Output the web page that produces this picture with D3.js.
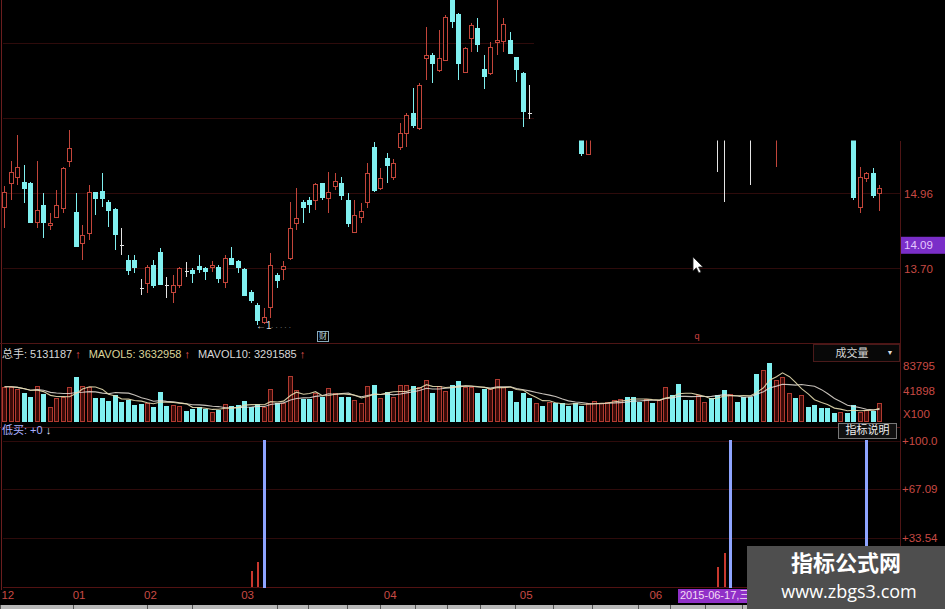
<!DOCTYPE html>
<html><head><meta charset="utf-8">
<script src="https://cdn.jsdelivr.net/npm/d3@7"></script>
<style>html,body{margin:0;padding:0;background:#000;overflow:hidden}</style>
</head><body><svg id="c" width="945" height="609"></svg>
<script>
// ---------------- DATA ----------------
const slotCount = 136;
// OHLC (null = candle not visible in the picture)
const open = [14.73,15.12,15.23,15.14,15.12,14.48,14.76,14.42,14.56,14.70,
15.49,14.64,14.12,14.28,14.98,14.99,14.81,14.69,14.09,13.83,
13.83,13.36,13.44,13.75,13.97,13.41,13.30,13.41,13.65,13.67,
13.73,13.70,13.71,13.72,13.47,13.86,13.82,13.68,13.30,13.08,
12.80,13.05,13.58,13.68,13.86,14.45,14.81,14.84,14.84,15.12,
14.87,15.08,15.12,14.84,14.31,14.56,14.81,15.74,15.04,15.54,
15.23,15.74,15.96,16.30,16.05,17.22,17.28,17.03,17.19,18.37,
17.97,17.00,17.56,17.74,17.05,16.97,17.49,17.52,17.53,17.24,
16.98,16.31,null,null,null,null,null,null,null,16.02,
15.62,null,null,null,null,null,null,null,null,null,
null,null,null,null,null,null,null,null,null,null,
16.69,16.69,null,null,null,16.69,null,null,null,16.60,
null,null,null,null,null,null,null,null,null,null,
null,16.10,14.73,15.21,15.29,14.96];
const high = [15.07,15.49,15.93,15.43,15.15,15.50,14.96,14.62,15.01,15.40,
16.02,14.96,14.42,15.09,14.98,15.29,14.84,14.70,14.37,13.92,
13.92,13.52,13.75,13.83,14.03,13.55,13.58,13.72,13.80,13.70,
13.92,13.72,13.81,13.75,13.92,14.06,13.83,13.70,13.33,13.11,
13.03,13.95,13.61,13.81,14.81,15.04,14.85,14.90,15.13,15.13,
15.32,15.29,15.23,14.96,14.84,14.79,15.46,15.82,15.38,15.63,
15.53,16.13,16.30,16.72,16.80,17.75,17.31,17.70,17.95,18.45,
17.98,17.42,17.81,17.90,17.28,17.50,18.25,17.90,17.67,17.25,
17.00,16.78,null,null,null,null,null,null,null,16.10,
16.10,null,null,null,null,null,null,null,null,null,
null,null,null,null,null,null,null,null,null,null,
16.80,16.80,null,null,null,16.80,null,null,null,16.85,
null,null,null,null,null,null,null,null,null,null,
null,16.20,15.40,15.32,15.38,15.09];
const low = [14.37,14.84,15.09,14.79,14.45,14.37,14.20,14.34,14.56,14.62,
15.40,14.06,13.83,14.17,14.59,14.73,14.39,14.00,13.92,13.58,
13.61,13.25,13.28,13.36,13.41,13.19,13.11,13.36,13.55,13.44,
13.61,13.50,13.64,13.44,13.36,13.75,13.61,13.23,13.11,12.74,
12.76,12.86,13.36,13.50,13.83,14.34,14.45,14.62,14.67,14.84,
14.62,15.01,14.84,14.39,14.28,14.45,14.70,14.98,15.01,15.12,
15.18,15.68,15.74,16.05,16.02,16.86,16.80,17.00,17.19,17.73,
16.86,16.97,17.33,17.33,16.70,16.94,17.28,17.33,17.31,16.83,
16.07,16.21,null,null,null,null,null,null,null,15.59,
15.60,null,null,null,null,null,null,null,null,null,
null,null,null,null,null,null,null,null,null,null,
15.32,14.81,null,null,null,15.09,null,null,null,15.40,
null,null,null,null,null,null,null,null,null,null,
null,14.84,14.62,15.15,14.87,14.65];
const close = [14.98,15.32,15.40,15.05,14.48,14.67,14.48,14.45,14.76,15.38,
15.71,14.07,14.25,14.98,14.87,14.87,14.67,14.27,14.09,13.67,
13.72,13.36,13.71,13.41,13.43,13.41,13.41,13.70,13.65,13.61,
13.68,13.65,13.75,13.53,13.87,13.76,13.72,13.25,13.16,12.83,
12.88,13.75,13.50,13.73,14.37,14.54,14.72,14.77,15.11,14.90,
14.98,15.16,14.93,14.45,14.59,14.65,15.29,15.01,15.21,15.43,
15.47,15.96,16.27,16.10,16.77,17.28,17.14,17.22,17.92,17.85,
17.15,17.39,17.78,17.47,16.93,17.42,17.53,17.80,17.32,17.05,
16.33,16.31,null,null,null,null,null,null,null,15.63,
16.02,null,null,null,null,null,null,null,null,null,
null,null,null,null,null,null,null,null,null,null,
16.69,16.69,null,null,null,16.69,null,null,null,16.75,
null,null,null,null,null,null,null,null,null,null,
null,14.90,15.23,15.29,14.93,15.04];
// volume (x100)
const volume = [100200,100200,94300,82500,70700,102200,78700,39200,65700,68600,
100200,129600,102200,98100,65700,65700,58900,75700,56000,61000,
46300,49200,53000,41200,85400,43300,46300,43300,29500,34500,
41200,34500,26500,31500,49200,43300,46300,58900,39200,49200,
41200,92200,53000,53000,131700,90400,62700,62700,80400,70700,
95200,80400,70700,70700,61000,51000,102200,105200,65700,85400,
68600,105200,105200,102200,98100,119900,80400,102200,88400,105200,
117800,100200,100200,80400,92200,92200,122800,100200,88400,56000,
80400,65700,51000,42700,54500,51000,51000,43600,53000,43600,
51000,58900,51000,56000,61000,62700,68600,70700,56000,62700,
53000,61000,100200,75700,106900,61000,61000,75700,56000,65700,
75700,90400,78700,56000,70700,70700,137600,149400,168800,119900,
129600,80400,65700,75700,41200,46300,38000,36000,24000,26500,
23000,45000,27000,31000,27300,51312];
// 1 = up day (red), 0 = down day (cyan)
const upDay = [1,1,1,0,0,1,0,1,1,1, 1,0,1,1,0,0,0,0,0,0,
0,0,1,0,0,0,1,1,0,0, 0,0,1,0,1,0,0,0,0,0,
1,1,0,1,1,1,0,0,1,0, 1,1,0,0,1,1,1,0,1,0,
1,1,1,0,1,1,0,1,1,0, 0,1,1,0,0,1,1,1,0,0,
0,0,1,0,1,0,0,0,0,0, 1,1,1,1,1,1,0,0,0,1,
0,1,1,0,0,0,0,1,1,0, 0,0,1,0,0,0,0,1,0,1,
1,1,0,1,0,0,0,0,0,1, 0,0,1,1,0,1];
// indicator 低买
const redSigSlots = [38,39,110,111];
const redSigValues = [11.3,17.5,14.0,23.2];
const blueSigSlots = [40,112,133];
const blueSigValues = [100,100,100];
// axes
const priceTicks = [13.70,14.96,16.22,17.48];
const cursorPrice = 14.09;
const volTickLabels = ["83795","41898","X100"];
const volTickValues = [83795,41898,2000];
const indTicks = [100,67.09,33.54];
const indTickLabels = ["+100.0","+67.09","+33.54"];
const monthLabels = ["12","01","02","03","04","05","06"];
const monthSlots = [0,11,22,37,59,80,100];
const totalHands = "5131187", mavol5 = "3632958", mavol10 = "3291585";
const cursorDate = "2015-06-17,三";

// ---------------- DRAW ----------------
const W=945,H=609;
const FONT='"Liberation Sans", Arial, "Noto Sans CJK SC", sans-serif';
const RED='#c2453a', CYAN='#80f0f0', WHITE='#e4e4e4', GRID='#2e0b0b', AX='#c84a44', LINE='#4e1515';
const svg=d3.select('#c').style('font-family',FONT);
svg.append('rect').attr('width',W).attr('height',H).attr('fill','#000');

const slots=d3.range(slotCount);
const x=d3.scaleBand().domain(slots).range([1.46,882.74]).paddingInner(0.3).paddingOuter(0.15);
const px=i=>Math.round(x(i))+0.5;
const bw=Math.round(x.bandwidth())-1;
const pc=i=>px(i)+bw/2;
const yP=d3.scaleLinear().domain([13.70,14.96]).range([268,193]);
const yV=d3.scaleLinear().domain([0,170000]).range([420.7,363]);
const yI=d3.scaleLinear().domain([0,100]).range([587.3,440.7]);
const yVL=d3.scaleLinear().domain([83795,0]).range([367,416]);

// main grid
const gMain=svg.append('g').attr('shape-rendering','crispEdges');
gMain.selectAll('line.g').data(priceTicks).join('line')
 .attr('x1',3).attr('x2',900).attr('y1',d=>Math.round(yP(d))+0.5).attr('y2',d=>Math.round(yP(d))+0.5)
 .attr('stroke',GRID);
// main price labels
svg.append('g').selectAll('text').data(priceTicks).join('text')
 .attr('x',904).attr('y',d=>yP(d)+2).attr('dominant-baseline','middle')
 .attr('font-size',11.5).attr('fill',AX).text(d=>d.toFixed(2));

// candles
const gC=svg.append('g').attr('shape-rendering','crispEdges');
slots.filter(i=>open[i]!=null).forEach(i=>{
  const o=open[i],c=close[i],h=high[i],l=low[i];
  const col=c>o?RED:(c<o?CYAN:WHITE);
  const x0=px(i), xc=pc(i);
  const yt=Math.round(yP(Math.max(o,c)))+0.5, yb=Math.round(yP(Math.min(o,c)))+0.5;
  gC.append('line').attr('x1',xc).attr('x2',xc).attr('y1',yP(h)).attr('y2',yP(l)).attr('stroke',col);
  if(c===o){
    gC.append('line').attr('x1',x0).attr('x2',x0+bw).attr('y1',yt).attr('y2',yt).attr('stroke',col);
  } else {
    gC.append('rect').attr('x',x0).attr('y',yt).attr('width',bw).attr('height',Math.max(1,yb-yt))
      .attr('fill',c>o?'#000':col).attr('stroke',col);
  }
});
// low price marker and small icons
svg.append('text').attr('x',256).attr('y',326).attr('font-size',10).attr('fill','#ddd').attr('dominant-baseline','middle').text('←1');
svg.append('text').attr('x',271).attr('y',326).attr('font-size',8).attr('fill','#888').attr('dominant-baseline','middle').text('. . . . .');
svg.append('rect').attr('x',317.5).attr('y',331.5).attr('width',11).attr('height',10).attr('fill','none').attr('stroke','#8ab');
svg.append('text').attr('x',323).attr('y',337).attr('font-size',8).attr('text-anchor','middle').attr('dominant-baseline','middle').attr('fill','#bdd').text('财');
svg.append('text').attr('x',697).attr('y',337).attr('font-size',9).attr('text-anchor','middle').attr('dominant-baseline','middle').attr('fill','#d04040').text('q');

// mask (blacked-out region of screenshot)
svg.append('rect').attr('x',534).attr('y',0).attr('width',W-534).attr('height',140.5).attr('fill','#000');

// cursor price box
svg.append('rect').attr('x',900).attr('y',yP(cursorPrice)-8).attr('width',45).attr('height',17).attr('fill','#7a2ec8');
svg.append('text').attr('x',904).attr('y',yP(cursorPrice)+1).attr('dominant-baseline','middle').attr('font-size',11.5).attr('fill','#e6c8ff').text(cursorPrice.toFixed(2));

// panel borders
const gB=svg.append('g').attr('shape-rendering','crispEdges');
gB.append('line').attr('x1',1.5).attr('x2',1.5).attr('y1',0).attr('y2',590).attr('stroke','#6a1e1e');
gB.append('line').attr('x1',900.5).attr('x2',900.5).attr('y1',141).attr('y2',604).attr('stroke',LINE);
gB.append('line').attr('x1',0).attr('x2',900).attr('y1',343.5).attr('y2',343.5).attr('stroke',LINE);
gB.append('line').attr('x1',0).attr('x2',900).attr('y1',427.5).attr('y2',427.5).attr('stroke',LINE);

// volume header
const hdr=svg.append('text').attr('x',2).attr('y',355).attr('dominant-baseline','middle').attr('font-size',11);
hdr.append('tspan').attr('fill','#d8d8d8').text('总手: '+totalHands);
hdr.append('tspan').attr('fill','#e05050').attr('dx',3).attr('font-weight','bold').text('↑');
hdr.append('tspan').attr('fill','#dcd49a').attr('dx',8).text('MAVOL5: '+mavol5);
hdr.append('tspan').attr('fill','#e05050').attr('dx',3).attr('font-weight','bold').text('↑');
hdr.append('tspan').attr('fill','#d8d8d8').attr('dx',8).text('MAVOL10: '+mavol10);
hdr.append('tspan').attr('fill','#e05050').attr('dx',3).attr('font-weight','bold').text('↑');
// 成交量 box
svg.append('rect').attr('x',813.5).attr('y',344.5).attr('width',86).attr('height',17).attr('fill','#080808').attr('stroke','#4a1a1a');
svg.append('text').attr('x',852).attr('y',354).attr('text-anchor','middle').attr('dominant-baseline','middle').attr('font-size',11).attr('fill','#d6d6d6').text('成交量');
svg.append('text').attr('x',890).attr('y',353).attr('text-anchor','middle').attr('dominant-baseline','middle').attr('font-size',7).attr('fill','#ddd').text('▼');

// volume bars
const gV=svg.append('g').attr('shape-rendering','crispEdges');
slots.forEach(i=>{
  const v=volume[i]; if(v==null) return;
  const up=upDay[i]===1;
  const yt=Math.round(yV(v))+0.5, yb=Math.round(yV(0))+0.5;
  gV.append('rect').attr('x',px(i)).attr('y',yt).attr('width',bw).attr('height',yb-yt)
    .attr('fill',up?'#3a0b08':CYAN).attr('stroke',up?'#b03a30':CYAN);
});
// MAVOL lines
function ma(n){return volume.map((v,i)=>{const s=volume.slice(Math.max(0,i-n+1),i+1);return d3.mean(s);});}
const ma5=ma(5), ma10=ma(10);
const ln=d3.line().x((d,i)=>pc(i)).y(d=>yV(d));
svg.append('path').attr('d',ln(ma10)).attr('fill','none').attr('stroke','#e8e0d8').attr('stroke-width',1.1).attr('opacity',0.85);
svg.append('path').attr('d',ln(ma5)).attr('fill','none').attr('stroke','#e6dcb0').attr('stroke-width',1.1).attr('opacity',0.9);
// volume labels
svg.append('g').selectAll('text').data(volTickLabels).join('text')
 .attr('x',903).attr('y',(d,i)=>yVL(volTickValues[i])).attr('dominant-baseline','middle')
 .attr('font-size',11.5).attr('fill',AX).text(d=>d);

// indicator panel
svg.append('text').attr('x',2).attr('y',431).attr('dominant-baseline','middle').attr('font-size',11)
 .call(t=>{t.append('tspan').attr('fill','#a8b0ff').text('低买: +0');t.append('tspan').attr('fill','#e0e0ff').attr('dx',3).attr('font-weight','bold').text('↓');});
svg.append('rect').attr('x',838.5).attr('y',423.5).attr('width',58).attr('height',15).attr('fill','#101010').attr('stroke','#777');
svg.append('text').attr('x',867.5).attr('y',431.5).attr('text-anchor','middle').attr('dominant-baseline','middle').attr('font-size',11).attr('fill','#eee').text('指标说明');
const gI=svg.append('g').attr('shape-rendering','crispEdges');
gI.selectAll('line').data(indTicks.concat([0])).join('line')
 .attr('x1',3).attr('x2',900).attr('y1',d=>Math.round(yI(d))+0.5).attr('y2',d=>Math.round(yI(d))+0.5)
 .attr('stroke',d=>d===0?'#521212':GRID);
svg.append('g').selectAll('text').data(indTickLabels).join('text')
 .attr('x',902).attr('y',(d,i)=>yI(indTicks[i])+1).attr('dominant-baseline','middle')
 .attr('font-size',11.5).attr('fill',AX).text(d=>d);
redSigSlots.forEach((s,k)=>{
  gI.append('rect').attr('x',pc(s)-1).attr('y',yI(redSigValues[k])).attr('width',2).attr('height',yI(0)-yI(redSigValues[k])).attr('fill','#c8382e');
});
blueSigSlots.forEach((s,k)=>{
  gI.append('rect').attr('x',pc(s)-1.5).attr('y',yI(blueSigValues[k])-1).attr('width',3).attr('height',yI(0)-yI(blueSigValues[k])+2).attr('fill','#8ea4ff');
});

// x axis month labels
svg.append('g').selectAll('text').data(monthLabels).join('text')
 .attr('x',(d,i)=>x(monthSlots[i])-1).attr('y',596).attr('dominant-baseline','middle')
 .attr('font-size',11.5).attr('fill',AX).text(d=>d);
// cursor date box
svg.append('rect').attr('x',678).attr('y',589).attr('width',76).attr('height',14).attr('fill','#9030c8');
svg.append('text').attr('x',680).attr('y',596.5).attr('dominant-baseline','middle').attr('font-size',11).attr('fill','#f4dcf4').text(cursorDate);

// bottom toolbar strip
const tabs=[0,73,147,192,277,308,347,380,415,447,480,515,553,592,638,670,705,742];
svg.append('rect').attr('x',0).attr('y',605).attr('width',W).attr('height',4).attr('fill','#b8b8b8');
svg.append('g').selectAll('rect').data(tabs).join('rect').attr('x',d=>d).attr('y',605).attr('width',1).attr('height',4).attr('fill','#555');

// mouse cursor
svg.append('path').attr('transform','translate(693,257)')
 .attr('d','M0,0 L0,14 L3.3,10.8 L5.8,16 L8,15 L5.6,10 L10,10 Z').attr('fill','#fff').attr('stroke','#222').attr('stroke-width',0.8);

// watermark
svg.append('rect').attr('x',747).attr('y',546).attr('width',198).attr('height',63).attr('fill','#4e4e4e');
svg.append('text').attr('x',846).attr('y',565).attr('text-anchor','middle').attr('dominant-baseline','middle')
 .attr('font-size',22).attr('font-weight','bold').attr('fill','#fff').attr('font-family','"Noto Sans CJK SC", sans-serif').text('指标公式网');
svg.append('text').attr('x',849).attr('y',593).attr('text-anchor','middle').attr('dominant-baseline','middle')
 .attr('font-size',18).attr('fill','#fff').attr('font-family','"Open Sans", "Noto Sans", sans-serif').text('www.zbgs3.com');
</script></body></html>
